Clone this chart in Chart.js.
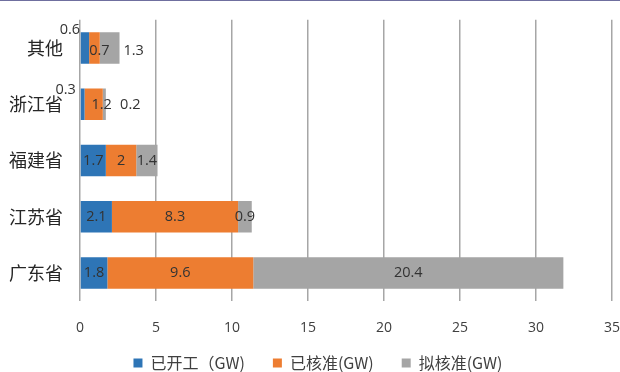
<!DOCTYPE html>
<html>
<head>
<meta charset="utf-8">
<script src="https://cdn.jsdelivr.net/npm/chart.js@4/dist/chart.umd.min.js"></script>
<style>
  body { margin: 0; background: #fff; }
  #wrap { position: relative; width: 620px; height: 372px; }
  #topLine { position: absolute; left: 0; top: 0; width: 620px; height: 1px; background: #6f6f9f; }
</style>
</head>
<body>
<div id="wrap">
  <canvas id="chart" width="620" height="372"></canvas>
  <div id="topLine"></div>
</div>
<script>
// --- データ ---
const provinces = ["其他", "浙江省", "福建省", "江苏省", "广东省"];
const started = [0.6, 0.3, 1.7, 2.1, 1.8];
const approved = [0.7, 1.2, 2, 8.3, 9.6];
const planned = [1.3, 0.2, 1.4, 0.9, 20.4];
const xTicks = [0, 5, 10, 15, 20, 25, 30, 35];

// ラベルの微調整（小さい区間は手で外側へずらしてある）
const labelNudge = {
  "0-0": [-15, -18], "0-1": [-17, -14],
  "1-0": [5, 3], "1-1": [8, 1],
  "2-0": [24, 3], "2-1": [26, 1]
};

const CJK = "'Noto Sans CJK SC', 'Noto Sans', sans-serif";

// --- データラベル描画 ---
const barLabels = {
  id: "barLabels",
  afterLayout(chart) {
    // 凡例の位置を調整
    chart.legend.left += 12;
    chart.legend.right += 12;
    chart.legend.top -= 27;
    chart.legend.bottom -= 27;
  },
  afterDatasetsDraw(chart) {
    const ctx = chart.ctx;
    ctx.save();
    ctx.font = "14.5px 'Open Sans', 'Noto Sans', sans-serif";
    ctx.fillStyle = "#333333";
    ctx.textAlign = "center";
    ctx.textBaseline = "middle";
    chart.data.datasets.forEach((ds, di) => {
      chart.getDatasetMeta(di).data.forEach((bar, i) => {
        const n = labelNudge[di + "-" + i] || [0, 0];
        const cx = (bar.x + bar.base) / 2 + n[0];
        ctx.fillText(String(ds.data[i]), cx, bar.y + n[1]);
      });
    });
    ctx.restore();
  }
};

new Chart(document.getElementById("chart").getContext("2d"), {
  type: "bar",
  data: {
    labels: provinces,
    datasets: [
      { label: "已开工（GW)", data: started, backgroundColor: "#2e75b6" },
      { label: "已核准(GW)", data: approved, backgroundColor: "#ed7d31" },
      { label: "拟核准(GW)", data: planned, backgroundColor: "#a5a5a5" }
    ]
  },
  options: {
    indexAxis: "y",
    responsive: false,
    animation: false,
    layout: { padding: { left: 0, right: 8, top: 16, bottom: -36 } },
    datasets: { bar: { categoryPercentage: 1, barPercentage: 0.56 } },
    plugins: {
      legend: {
        position: "bottom",
        labels: {
          boxWidth: 9, boxHeight: 9, padding: 28,
          color: "#404040",
          font: { size: 16, family: CJK }
        }
      },
      tooltip: { enabled: false }
    },
    scales: {
      x: {
        stacked: true, min: 0, max: 35,
        afterBuildTicks: s => { s.ticks = xTicks.map(v => ({ value: v })); },
        afterFit: s => { s.paddingRight = 0; s.paddingLeft = 0; },
        grid: { color: "#a6a6a6", lineWidth: 1.5, drawTicks: false },
        border: { display: false },
        ticks: { color: "#404040", padding: 18, font: { size: 14, family: "'Open Sans', sans-serif" } }
      },
      y: {
        stacked: true,
        grid: { display: false },
        border: { display: false },
        afterFit: s => { s.width = 80; },
        ticks: { color: "#262626", padding: 9, font: { size: 18, family: CJK } }
      }
    }
  },
  plugins: [barLabels]
});
</script>
</body>
</html>
